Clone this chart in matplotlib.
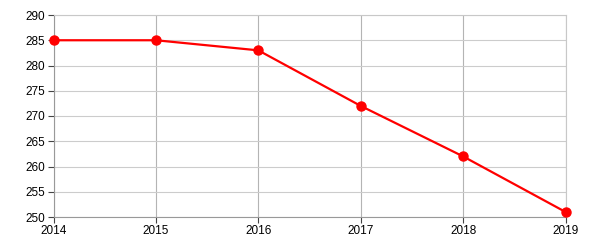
import matplotlib
matplotlib.use("Agg")
import matplotlib.pyplot as plt

years = [2014, 2015, 2016, 2017, 2018, 2019]
values = [285, 285, 283, 272, 262, 251]
y_ticks = [250, 255, 260, 265, 270, 275, 280, 285, 290]

plt.rcParams['font.family'] = ['Liberation Sans', 'DejaVu Sans']

fig = plt.figure(figsize=(6, 2.5), dpi=100)
ax = fig.add_axes([53.5 / 600, 33 / 250, 512 / 600, 202 / 250])

ax.plot(years, values, color='#ff0000', linewidth=1.6,
        marker='o', markersize=6.5, clip_on=False, zorder=3)

ax.set_xlim(2014, 2019)
ax.set_ylim(250, 290)
ax.set_xticks(years)
ax.set_yticks(y_ticks)

# horizontal lines a bit lighter than the vertical ones
ax.grid(True, axis='y', color='#cccccc', linewidth=0.8)
ax.grid(True, axis='x', color='#b4b4b4', linewidth=0.8)
ax.set_axisbelow(True)

for s in ['top', 'right']:
    ax.spines[s].set_color('#c8c8c8')
    ax.spines[s].set_linewidth(0.8)
for s in ['left', 'bottom']:
    ax.spines[s].set_color('#999999')
    ax.spines[s].set_linewidth(0.8)

ax.tick_params(axis='both', length=4, width=0.8, color='#444444',
               labelsize=8.5, labelcolor='black', pad=2)

fig.savefig('out.png', dpi=100)
